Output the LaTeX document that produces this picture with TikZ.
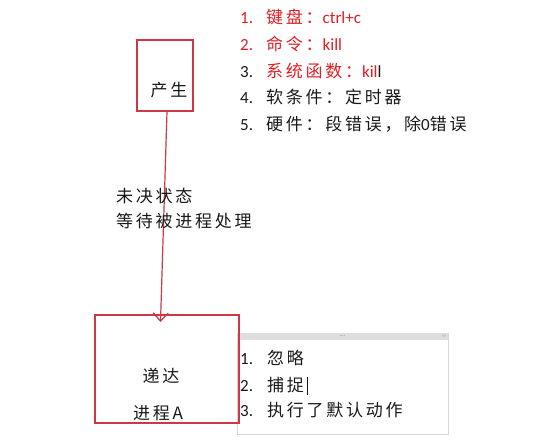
\documentclass[tikz,border=0pt]{standalone}
\usepackage{fontspec}
\setmainfont{Carlito}
\newfontfamily\cjk{Noto Sans CJK SC}[LetterSpace=16]
\usetikzlibrary{arrows.meta}
\definecolor{boxred}{RGB}{205,55,70}
\definecolor{txtred}{RGB}{225,30,35}
\definecolor{txtblk}{RGB}{25,25,25}
\definecolor{bargray}{RGB}{222,222,222}
\definecolor{popborder}{RGB}{215,215,215}
\tikzset{
  redbox/.style={draw=boxred, line width=1.6pt},
  lbl/.style={anchor=base west, inner sep=0pt, text=txtblk, font=\fontsize{17}{17}\selectfont},
  ctr/.style={anchor=center, inner sep=0pt, text=txtblk, font=\fontsize{17}{17}\selectfont},
  redline/.style={draw=boxred, line width=1.2pt},
  popup/.style={draw=popborder, line width=0.6pt, fill=white},
}
\begin{document}
\begin{tikzpicture}[x=1pt,y=-1pt]
\useasboundingbox (0,0) rectangle (549,446);
% boxes
\node[redbox, minimum width=56pt, minimum height=71pt, inner sep=0pt] (gen) at (165,75.5) {};
\node[ctr] (gentext) at (169,90) {\cjk 产生};
\node[popup, minimum width=211pt, minimum height=101pt, inner sep=0pt] (pop) at (342.5,383.5) {};
\fill[bargray] (pop.north west) rectangle ([yshift=-7pt]pop.north east);
\node[inner sep=0pt, text=gray, font=\fontsize{5}{5}\selectfont] (dots) at ([yshift=-3.5pt]pop.north) {····};
\node[inner sep=0pt, text=gray, font=\fontsize{6}{6}\selectfont, anchor=east] (arr) at ([xshift=-2pt,yshift=-3.5pt]pop.north east) {‹›};
\node[redbox, minimum width=144pt, minimum height=108pt, inner sep=0pt] (del) at (167,369) {};
\node[ctr] (deltext) at (161,376) {\cjk 递达};
\node[ctr] (proc) at (158,413) {\cjk 进程\,A};
% connector
\coordinate (tip) at (160.5,322);
\draw[redline, -{Straight Barb[length=8pt,width=15pt,line width=1.3pt]}] ([xshift=2pt]gen.south) -- (tip);
% top list
\node[lbl, text=txtred] (l1n) at (240,24) {1.};
\node[lbl, text=txtred] (l1) at (266,24) {\cjk 键盘：\normalfont ctrl+c};
\node[lbl, text=txtred] (l2n) at (240,51) {2.};
\node[lbl, text=txtred] (l2) at (266,51) {\cjk 命令：\normalfont kill};
\node[lbl] (l3n) at (240,78) {3.};
\node[lbl, text=txtred] (l3) at (266,78) {\cjk 系统函数：\normalfont kil\textcolor{txtblk}{l}};
\node[lbl] (l4n) at (240,104) {4.};
\node[lbl] (l4) at (266,104) {\cjk 软条件：定时器};
\node[lbl] (l5n) at (240,131) {5.};
\node[lbl] (l5) at (266,131) {\cjk 硬件：段错误，除\normalfont 0\cjk 错误};
% middle text
\node[lbl] (m1) at (116,203) {\cjk 未决状态};
\node[lbl] (m2) at (116,228) {\cjk 等待被进程处理};
% popup list
\node[lbl] (p1n) at (240,364) {1.};
\node[lbl] (p1) at (267,364) {\cjk 忽略};
\node[lbl] (p2n) at (240,391) {2.};
\node[lbl] (p2) at (267,391) {\cjk 捕捉};
\draw[txtblk, line width=0.7pt] ([xshift=3pt,yshift=14pt]p2.base east) -- ([xshift=3pt,yshift=-4pt]p2.base east);
\node[lbl] (p3n) at (240,416) {3.};
\node[lbl] (p3) at (267,416) {\cjk 执行了默认动作};
\end{tikzpicture}
\end{document}
